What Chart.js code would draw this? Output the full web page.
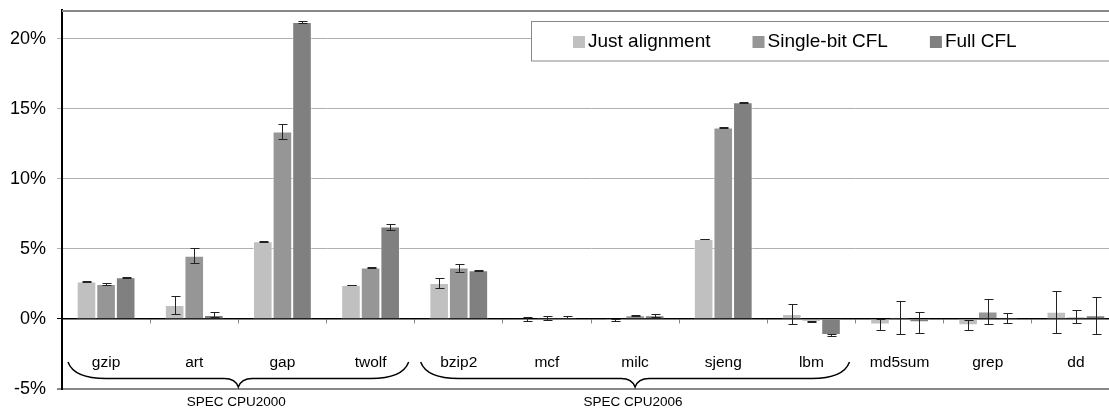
<!DOCTYPE html>
<html>
<head>
<meta charset="utf-8">
<script src="https://cdn.jsdelivr.net/npm/chart.js@4.4.1/dist/chart.umd.min.js"></script>
<style>
    html, body { margin: 0; padding: 0; background: #fff; }
    #wrap { width: 1109px; height: 409px; overflow: hidden; }
</style>
</head>
<body>
<div id="wrap"><canvas id="overheadChart" width="1120" height="409"></canvas></div>
<script>
// benchmarks and overheads (%)
const categories = ['gzip', 'art', 'gap', 'twolf', 'bzip2', 'mcf', 'milc', 'sjeng', 'lbm', 'md5sum', 'grep', 'dd'];

const justAlignment = [2.67, 1.0, 5.55, 2.43, 2.57, -0.01, -0.08, 5.71, 0.36, -0.4, -0.45, 0.52];
const justAlignmentErr = [0.03, 0.63, 0.05, 0.02, 0.35, 0.13, 0.08, 0.02, 0.74, 0.4, 0.35, 1.5];

const singleBitCfl = [2.5, 4.52, 13.4, 3.67, 3.67, 0.07, 0.26, 13.67, -0.17, 0.12, 0.54, 0.17];
const singleBitCflErr = [0.1, 0.52, 0.52, 0.02, 0.29, 0.17, 0.04, 0.02, 0.03, 1.18, 0.92, 0.48];

const fullCfl = [2.98, 0.29, 21.21, 6.6, 3.48, 0.12, 0.26, 15.48, -1.14, -0.24, 0.07, 0.26];
const fullCflErr = [0.05, 0.18, 0.1, 0.21, 0.04, 0.08, 0.13, 0.02, 0.04, 0.76, 0.33, 1.33];

const yTicks = [-5, 0, 5, 10, 15, 20];

// suite braces under the category labels (first and last category index)
const groupLabels = ['SPEC CPU2000', 'SPEC CPU2006'];
const groupStart = [0, 4];
const groupEnd = [3, 8];

const FONT = "'Liberation Sans', Arial, sans-serif";

const errorBars = {
    id: 'errorBars',
    afterDatasetsDraw(chart) {
        const ctx = chart.ctx;
        const y = chart.scales.y;
        ctx.save();
        ctx.strokeStyle = '#222';
        ctx.lineWidth = 1;
        chart.data.datasets.forEach((ds, i) => {
            const meta = chart.getDatasetMeta(i);
            meta.data.forEach((bar, j) => {
                const v = ds.data[j];
                const e = ds.errors[j];
                const x = Math.round(bar.x) + 0.5;
                const top = Math.round(y.getPixelForValue(v + e)) + 0.5;
                const bot = Math.round(y.getPixelForValue(v - e)) + 0.5;
                ctx.beginPath();
                ctx.moveTo(x, top);
                ctx.lineTo(x, bot);
                ctx.moveTo(x - 4, top);
                ctx.lineTo(x + 5, top);
                ctx.moveTo(x - 4, bot);
                ctx.lineTo(x + 5, bot);
                ctx.stroke();
            });
        });
        ctx.restore();
    }
};

const frameAndLegend = {
    id: 'frameAndLegend',
    afterDraw(chart) {
        const ctx = chart.ctx;
        const area = chart.chartArea;
        const x = chart.scales.x;
        ctx.save();

        // top frame line
        ctx.strokeStyle = '#888';
        ctx.lineWidth = 2;
        ctx.beginPath();
        ctx.moveTo(area.left, area.top + 1);
        ctx.lineTo(area.right, area.top + 1);
        ctx.stroke();

        // legend box
        ctx.fillStyle = '#fff';
        ctx.fillRect(531, 21.5, 700, 39.5);
        ctx.strokeStyle = '#888';
        ctx.lineWidth = 1;
        ctx.strokeRect(531.5, 21.5, 700, 39.5);

        ctx.font = '19px ' + FONT;
        ctx.textBaseline = 'middle';
        let lx = 573;
        chart.data.datasets.forEach(ds => {
            ctx.fillStyle = ds.backgroundColor;
            ctx.fillRect(lx, 36, 12, 12);
            ctx.fillStyle = '#000';
            ctx.fillText(ds.label, lx + 15, 42);
            lx += 15 + ctx.measureText(ds.label).width + 42;
        });

        // braces and suite names
        const step = x.width / categories.length;
        ctx.strokeStyle = '#000';
        ctx.lineWidth = 1.5;
        groupLabels.forEach((label, g) => {
            const xa = x.getPixelForValue(groupStart[g]) - step / 2 + 6;
            const xb = x.getPixelForValue(groupEnd[g]) + step / 2 - 6;
            const xc = (xa + xb) / 2;
            const yTop = 362, yMid = 378.5, yTip = 387;
            ctx.beginPath();
            ctx.moveTo(xa, yTop);
            ctx.quadraticCurveTo(xa + 6, yMid, xa + 38, yMid);
            ctx.lineTo(xc - 14, yMid);
            ctx.quadraticCurveTo(xc - 3, yMid, xc, yTip);
            ctx.quadraticCurveTo(xc + 3, yMid, xc + 14, yMid);
            ctx.lineTo(xb - 38, yMid);
            ctx.quadraticCurveTo(xb - 6, yMid, xb, yTop);
            ctx.stroke();

            ctx.fillStyle = '#000';
            ctx.font = '13.5px ' + FONT;
            ctx.textAlign = 'center';
            ctx.fillText(label, xc - 2, 402);
        });
        ctx.restore();
    }
};

const barStyle = {
    borderWidth: 1,
    borderColor: 'rgba(255,255,255,0.55)',
    barPercentage: 1.0,
    categoryPercentage: 0.667
};

new Chart(document.getElementById('overheadChart'), {
    type: 'bar',
    data: {
        labels: categories,
        datasets: [
            { label: 'Just alignment', data: justAlignment, errors: justAlignmentErr, backgroundColor: '#c0c0c0', ...barStyle },
            { label: 'Single-bit CFL', data: singleBitCfl, errors: singleBitCflErr, backgroundColor: '#969696', ...barStyle },
            { label: 'Full CFL', data: fullCfl, errors: fullCflErr, backgroundColor: '#808080', ...barStyle }
        ]
    },
    options: {
        responsive: false,
        animation: false,
        layout: { padding: { top: 10, bottom: 20, left: 0, right: 0 } },
        plugins: {
            legend: { display: false },
            tooltip: { enabled: false }
        },
        scales: {
            x: {
                type: 'category',
                position: { y: 0 },
                offset: true,
                grid: {
                    offset: true,
                    drawOnChartArea: false,
                    tickLength: 4,
                    color: '#888'
                },
                border: { color: '#000', width: 1.5 },
                ticks: {
                    color: '#000',
                    font: { family: FONT, size: 15.5 },
                    padding: 30,
                    maxRotation: 0,
                    autoSkip: false
                }
            },
            y: {
                min: -5,
                max: 22.07,
                afterBuildTicks(scale) {
                    scale.ticks = yTicks.map(v => ({ value: v }));
                },
                afterFit(scale) {
                    scale.width = 62;
                    scale.paddingTop = 0;
                    scale.paddingBottom = 0;
                },
                grid: {
                    tickLength: 5,
                    color: c => c.tick.value === 0 ? '#000' : (c.tick.value === -5 ? '#888' : '#b0b0b0'),
                    lineWidth: c => c.tick.value === -5 ? 2 : 1
                },
                border: { color: '#000', width: 2 },
                ticks: {
                    color: '#000',
                    font: { family: FONT, size: 18 },
                    padding: 11,
                    callback: v => v + '%'
                }
            }
        }
    },
    plugins: [errorBars, frameAndLegend]
});
</script>
</body>
</html>
